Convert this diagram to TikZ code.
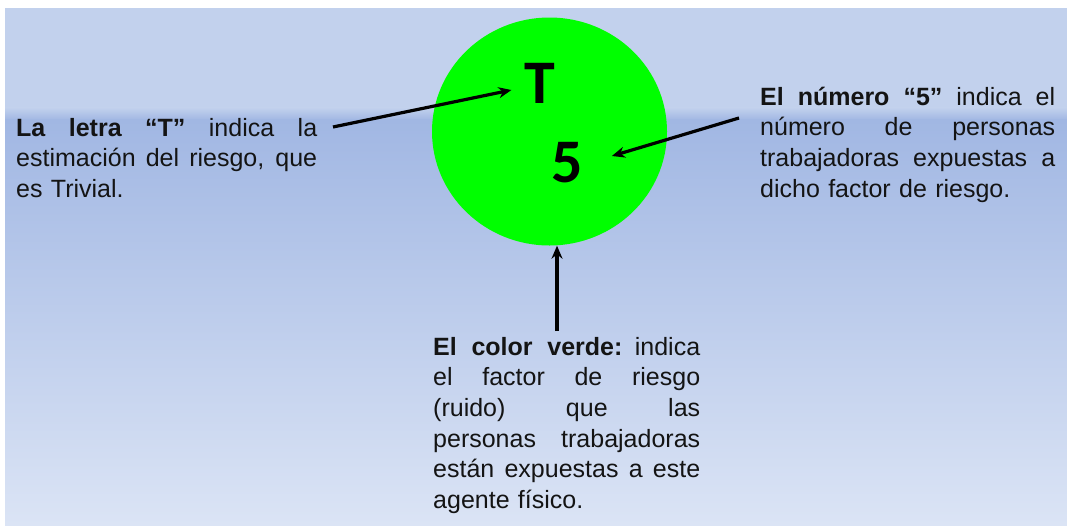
\documentclass[tikz,border=0pt]{standalone}
\usepackage{fontspec}
\setmainfont{Liberation Sans}
\newfontfamily\calib{Carlito}
\usetikzlibrary{arrows.meta,shapes.geometric}
\definecolor{bgtop}{RGB}{194,209,237}
\definecolor{bgmid}{RGB}{161,183,227}
\definecolor{bgbot}{RGB}{219,228,245}
\definecolor{txt}{RGB}{20,20,20}
\newcommand\jl[1]{\noindent\hbox to \hsize{\spaceskip=0.25em plus 1fil\relax #1}\par}
\tikzset{
  desc/.style={inner sep=0pt, anchor=base west, align=left, text=txt,
    font=\fontsize{25}{30.7}\selectfont},
  big/.style={inner sep=0pt, font=\calib\bfseries\fontsize{62}{62}\selectfont},
  arr/.style={line width=3.2pt, -{Stealth[length=13pt,width=11pt]}},
}
\begin{document}
\begin{tikzpicture}[x=1pt,y=-1pt]
\useasboundingbox (0,0) rectangle (1067,525);
\fill[white] (0,0) rectangle (1067,525);
\fill[bgtop] (5,8) rectangle (1067,108);
\shade[top color=bgtop, bottom color=bgmid] (5,107.5) rectangle (1067,120);
\shade[top color=bgmid, bottom color=bgbot] (5,119.5) rectangle (1067,525);
\node[ellipse, fill=green, minimum width=235pt, minimum height=228pt, inner sep=0pt] (c) at (549.5,131.5) {};
\node[big] (t) at (540,83) {T};
\node[big] (f) at (567,163) {5};
\node[desc, text width=301pt] (lt) at (16,136) {%
\jl{\textbf{La letra “T”} indica la}%
\jl{estimación del riesgo, que}%
\noindent es Trivial.};
\node[desc, text width=295pt] (rt) at (760,105) {%
\jl{\textbf{El número “5”} indica el}%
\jl{número de personas}%
\jl{trabajadoras expuestas a}%
\noindent dicho factor de riesgo.};
\node[desc, text width=267pt] (bt) at (433,355) {%
\jl{\textbf{El color verde:} indica}%
\jl{el factor de riesgo}%
\jl{(ruido) que las}%
\jl{personas trabajadoras}%
\jl{están expuestas a este}%
\noindent agente físico.};
\coordinate (la) at (333,127);
\coordinate (ra) at (739,118);
\coordinate (ba) at (557,331);
\draw[arr] (la) -- ([xshift=-13pt,yshift=-7pt]t.west);
\draw[arr] (ra) -- ([xshift=29pt,yshift=7pt]f.east);
\draw[arr] (ba) -- (ba |- c.south);
\end{tikzpicture}
\end{document}
